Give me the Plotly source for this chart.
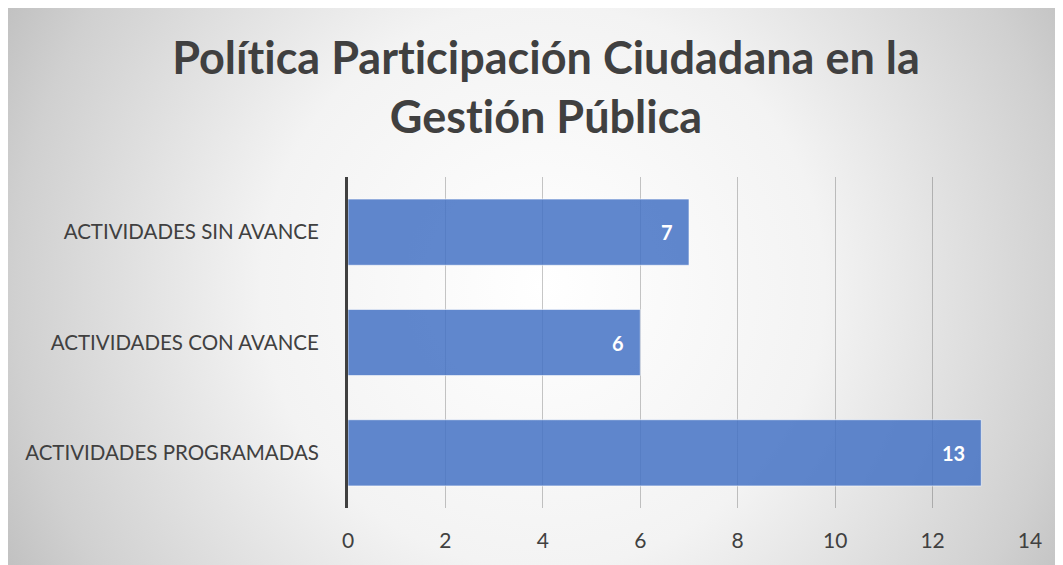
import base64
import plotly.graph_objects as go

categories = ["ACTIVIDADES PROGRAMADAS", "ACTIVIDADES CON AVANCE", "ACTIVIDADES SIN AVANCE"]
values = [13, 6, 7]
tick_vals = [0, 2, 4, 6, 8, 10, 12, 14]
title_text = "Polít\u200cica Part\u200cicipación Ciudadana en la<br>Gest\u200ción Pública"

W, H = 1055, 557
L, R, T, B = 340, 33, 169, 57
pw, ph = W - L - R, H - T - B

svg = f'''<svg xmlns="http://www.w3.org/2000/svg" width="1055" height="559" viewBox="0 0 1055 559">
<defs><radialGradient id="g" gradientUnits="userSpaceOnUse" cx="535" cy="280" r="600">
<stop offset="0" stop-color="#ffffff"/>
<stop offset="0.47" stop-color="#f3f3f3"/>
<stop offset="0.88" stop-color="#d0d0d0"/>
<stop offset="1" stop-color="#c2c2c2"/>
</radialGradient></defs>
<rect x="0" y="0" width="1055" height="559" fill="url(#g)"/>
<line x1="0" y1="0.5" x2="1055" y2="0.5" stroke="#d9d9d9" stroke-width="1"/>
</svg>'''
src = "data:image/svg+xml;base64," + base64.b64encode(svg.encode()).decode()

fig = go.Figure(go.Bar(
    x=values, y=categories, orientation="h",
    marker=dict(color="rgba(68,114,196,0.85)", line=dict(color="rgba(255,255,255,0.6)", width=1)),
    width=0.6, hoverinfo="x+y",
))

for c, v in zip(categories, values):
    fig.add_annotation(
        x=v, y=c, xref="x", yref="y", text=f"<b>{v}</b>", showarrow=False,
        xanchor="right", xshift=-14, yanchor="middle",
        font=dict(family="Lato", size=20, color="white"),
    )

fig.add_layout_image(dict(
    source=src, xref="paper", yref="paper",
    x=(0 - L) / pw, y=(H - B + 2) / ph,
    sizex=1055 / pw, sizey=559 / ph,
    sizing="stretch", xanchor="left", yanchor="top", layer="below",
))

fig.update_layout(
    width=W, height=H,
    margin=dict(l=L, r=R, t=T, b=B),
    paper_bgcolor="white", plot_bgcolor="rgba(0,0,0,0)",
    showlegend=False,
    title=dict(
        text=title_text,
        x=538 / W, xanchor="center", y=1 - 66 / H, yanchor="middle", yref="container",
        font=dict(family="Lato", size=45, color="#404040", weight="bold"),
    ),
    xaxis=dict(
        range=[0, 14], tickvals=tick_vals, showgrid=True, gridcolor="rgba(0,0,0,0.22)", gridwidth=1,
        zeroline=False, showline=False, ticks="",
        tickfont=dict(family="Lato", size=21, color="#404040"),
        ticklabelstandoff=18,
    ),
    yaxis=dict(
        showline=True, linecolor="#404040", linewidth=3, showgrid=False, ticks="",
        tickfont=dict(family="Lato", size=20.5, color="#404040"),
        ticklabelstandoff=22, range=[-0.5, 2.5],
    ),
    bargap=0.4,
)

fig.write_html("out.html")
